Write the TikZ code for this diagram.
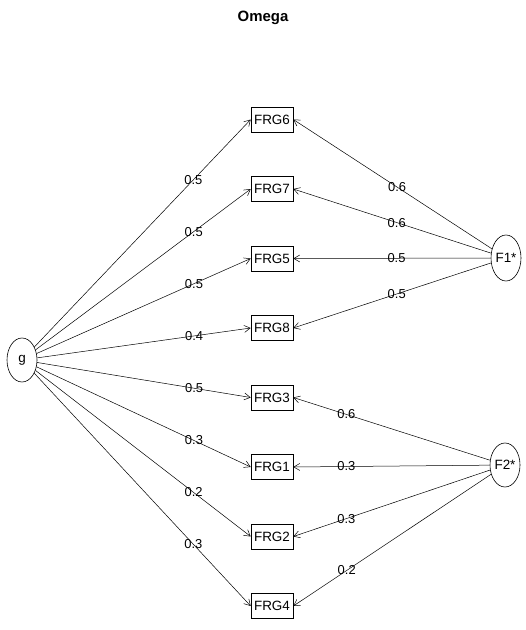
\documentclass[tikz,border=0pt]{standalone}
\usepackage{fontspec}
\setmainfont{Liberation Sans}
\usetikzlibrary{arrows.meta,shapes.geometric}

\begin{document}
\begin{tikzpicture}[
    x=1bp, y=-1bp,
    item/.style={draw, line width=0.6bp, minimum width=42bp, minimum height=25bp, inner sep=0pt, font=\fontsize{13.5}{15}\selectfont},
    factor/.style={draw, ellipse, line width=0.6bp, minimum width=30bp, minimum height=44bp, inner sep=0pt, font=\fontsize{13.5}{15}\selectfont},
    arrow/.style={-{Straight Barb[length=6bp, width=7bp]}, line width=0.5bp},
    wt/.style={font=\fontsize{13}{15}\selectfont, inner sep=0pt}
  ]
    \useasboundingbox (0,0) rectangle (526,630);
    \node[font=\bfseries\fontsize{15}{17}\selectfont] (title) at (263,18) {Omega};

    % general factor and group factors
    \node[factor] (g) at (22,360) {g};
    \node[factor, minimum height=46bp] (f1) at (506,258) {F1*};
    \node[factor] (f2) at (505,465) {F2*};

    % items
    \node[item] (frg6) at (272,119.5) {FRG6};
    \node[item] (frg7) at (272,189) {FRG7};
    \node[item] (frg5) at (272,258.5) {FRG5};
    \node[item] (frg8) at (272,328) {FRG8};
    \node[item] (frg3) at (272,397.5) {FRG3};
    \node[item] (frg1) at (272,467) {FRG1};
    \node[item] (frg2) at (272,536.5) {FRG2};
    \node[item] (frg4) at (272,606) {FRG4};

    % loadings on g
    \draw[arrow] (g) -- (frg6.west) node[wt, pos=0.735] {0.5};
    \draw[arrow] (g) -- (frg7.west) node[wt, pos=0.735] {0.5};
    \draw[arrow] (g) -- (frg5.west) node[wt, pos=0.735] {0.5};
    \draw[arrow] (g) -- (frg8.west) node[wt, pos=0.735] {0.4};
    \draw[arrow] (g) -- (frg3.west) node[wt, pos=0.735] {0.5};
    \draw[arrow] (g) -- (frg1.west) node[wt, pos=0.735] {0.3};
    \draw[arrow] (g) -- (frg2.west) node[wt, pos=0.735] {0.2};
    \draw[arrow] (g) -- (frg4.west) node[wt, pos=0.735] {0.3};

    % loadings on F1*
    \draw[arrow] (f1) -- (frg6.east) node[wt, pos=0.477] {0.6};
    \draw[arrow] (f1) -- (frg7.east) node[wt, pos=0.477] {0.6};
    \draw[arrow] (f1) -- (frg5.east) node[wt, pos=0.477] {0.5};
    \draw[arrow] (f1) -- (frg8.east) node[wt, pos=0.477] {0.5};

    % loadings on F2*
    \draw[arrow] (f2) -- (frg3.east) node[wt, pos=0.73] {0.6};
    \draw[arrow] (f2) -- (frg1.east) node[wt, pos=0.73] {0.3};
    \draw[arrow] (f2) -- (frg2.east) node[wt, pos=0.73] {0.3};
    \draw[arrow] (f2) -- (frg4.east) node[wt, pos=0.73] {0.2};
  \end{tikzpicture}
\end{document}
